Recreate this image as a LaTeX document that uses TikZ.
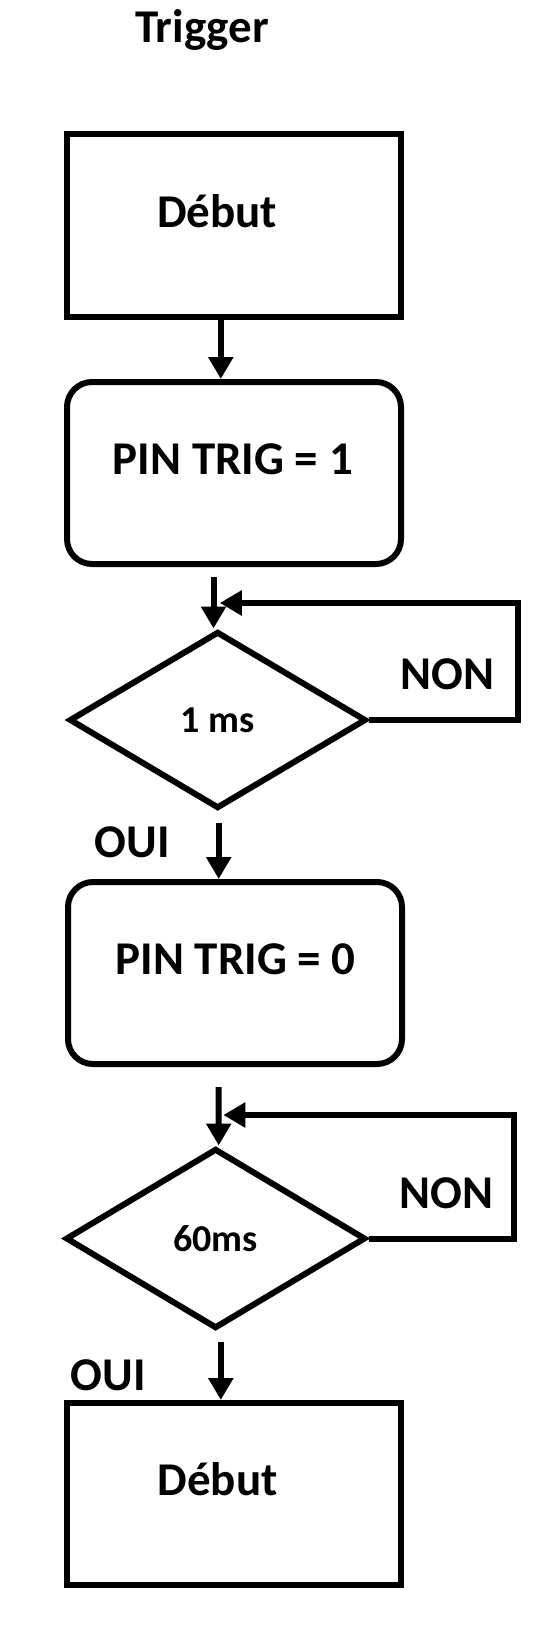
\documentclass[tikz,border=0pt]{standalone}
\usepackage{fontspec}
\setmainfont{Carlito}
\usetikzlibrary{shapes.geometric,arrows.meta}

\tikzset{
  block/.style={draw, line width=6pt, minimum width=334pt, minimum height=182pt, inner sep=0pt},
  roundblock/.style={block, rounded corners=25pt},
  decision/.style={draw, diamond, line width=6pt, inner sep=0pt, font=\fontsize{38}{40}\selectfont\bfseries},
  txt/.style={anchor=base, inner sep=0pt, font=\fontsize{47}{50}\selectfont\bfseries},
  flow/.style={line width=6pt, -{Triangle[length=22pt,width=24pt]}},
}

\begin{document}
\begin{tikzpicture}[x=1pt, y=-1pt]
        \useasboundingbox (0,0) rectangle (547,1632);

        \node[txt] (title) at (202,43) {Trigger};

        % boites
        \node[block] (box1) at (234,225.5) {};
        \node[txt] at (217.2,227) {Début};

        \node[roundblock] (box2) at (234,473) {};
        \node[txt] at (232.9,474) {PIN TRIG = 1};

        \node[decision, minimum width=297pt, minimum height=177pt] (d1) at (217.7,720) {1 ms};
        \node[txt] at (447.4,689) {NON};
        \node[txt] at (132.4,857) {OUI};

        \node[roundblock] (box3) at (235,973) {};
        \node[txt] at (235.5,974) {PIN TRIG = 0};

        \node[decision, minimum width=300pt, minimum height=180pt] (d2) at (215.6,1238.5) {60ms};
        \node[txt] at (446.4,1208) {NON};
        \node[txt] at (108.3,1390) {OUI};

        \node[block] (box4) at (234,1494) {};
        \node[txt] at (217.7,1495) {Début};

        % fleches
        \draw[flow] ([xshift=-13.2pt]box1.south) -- ([xshift=-13.2pt]box2.north);
        \draw[flow, shorten <=10pt] ([xshift=-20.5pt]box2.south) -- ([xshift=-4.2pt]d1.north);
        \draw[flow, shorten <=11pt] ([xshift=1pt]d1.south) -- ([xshift=-16.3pt]box3.north);
        \draw[flow, shorten <=20pt] ([xshift=-16.3pt]box3.south) -- ([xshift=3.1pt]d2.north);
        \draw[flow, shorten <=10pt] ([xshift=5.2pt]d2.south) -- ([xshift=-13.2pt]box4.north);

        % boucles NON
        \coordinate (r1) at (518,603);
        \coordinate (in1) at (219.8,603);
        \draw[flow] (d1.east) -| (r1) -- (in1);

        \coordinate (r2) at (514,1115);
        \coordinate (in2) at (223.3,1115);
        \draw[flow] (d2.east) -| (r2) -- (in2);
      \end{tikzpicture}
\end{document}
